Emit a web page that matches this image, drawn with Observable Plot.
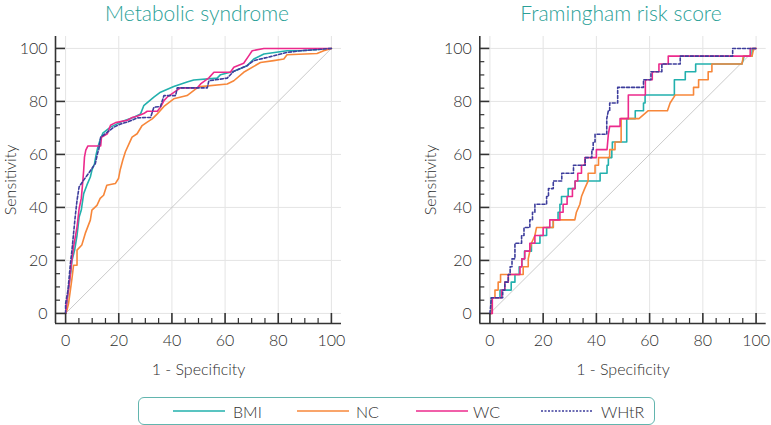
<!DOCTYPE html>
<html><head><meta charset="utf-8">
<script src="https://cdn.jsdelivr.net/npm/d3@7"></script>
<script src="https://cdn.jsdelivr.net/npm/@observablehq/plot@0.6"></script>
<style>
body{margin:0;background:#fff;}
#root{position:relative;width:771px;height:425px;overflow:hidden;font-family:Lato,"Open Sans",sans-serif;}
.title{position:absolute;top:2px;font-size:21px;font-weight:300;color:#2a9f97;transform:translateX(-50%);white-space:nowrap;line-height:22px;}
.panel{position:absolute;top:28px;}
#legend{position:absolute;left:138px;top:397px;width:517px;height:28px;box-sizing:border-box;border:1.3px solid #62b5ae;border-radius:6px;}
.item{position:absolute;top:0;height:26px;display:flex;align-items:center;font-size:16px;font-weight:300;color:#333;}
.item svg{position:absolute;left:0;top:10px;}
.item span{position:absolute;white-space:nowrap;}
</style>
</head><body>
<div id="root">
  <div class="title" id="t1" style="left:197px"></div>
  <div class="title" id="t2" style="left:621px"></div>
  <div class="panel" id="p1" style="left:0px"></div>
  <div class="panel" id="p2" style="left:385px"></div>
  <div id="legend"></div>
</div>
<script>
// ---- data ----
const panelTitles = ["Metabolic syndrome", "Framingham risk score"];
const seriesNames = ["BMI", "NC", "WC", "WHtR"];
const seriesColors = ["#22b0ad", "#f7873a", "#ec2a8c", "#3d3d9c"];
const xLabel = "1 - Specificity";
const yLabel = "Sensitivity";
const majorTicks = [0, 20, 40, 60, 80, 100];
const minorTicks = [5, 10, 15, 25, 30, 35, 45, 50, 55, 65, 70, 75, 85, 90, 95];
const diagonal = [[0, 0], [100, 100]];

// Metabolic syndrome ROC curves [1-specificity, sensitivity]
const msBMI = [[0,0],[0.5,4],[1.2,10],[2,16],[2.4,20],[3.4,23.9],[4.3,29.5],[5.1,36.4],[5.9,39],[6.8,45.2],[8,48.4],[9.3,51.5],[9.9,54],[10.9,56.6],[11.5,60],[12.2,63],[13,65.5],[14,68],[16.9,70.3],[20.7,72.2],[25.7,74],[28.2,75.3],[29.4,78.4],[33.2,81.6],[35.7,83.5],[40.7,85.6],[45.7,87.3],[48.2,88.1],[57,88.8],[58.3,90.1],[63.3,91.4],[68.3,93.5],[70.8,96],[74.6,97.9],[83.3,99.1],[88.3,99.1],[100,100]];
const msNC = [[0,0],[0.5,1.2],[1.1,3.7],[1.8,8.8],[2.4,13.2],[3,18.2],[4.3,18.2],[4.3,23.9],[6.1,25.8],[7.4,30.2],[9.3,35.2],[9.9,39],[11.8,40.8],[13,43.4],[14.3,44.6],[15.5,48.4],[18.7,49],[19.9,50.9],[20.5,54],[21.5,57.8],[22.5,61],[23.8,63.9],[25,66.5],[26.9,67.8],[28.8,70.9],[30.7,72.2],[32.6,73.4],[34.5,75.3],[37,78.1],[40.7,81],[45.7,82.2],[49.5,85.1],[50.8,85.6],[60.8,86.6],[63.3,87.8],[67,91],[73.3,94.7],[78.3,95.4],[82.1,96],[83.3,97.6],[94.6,98.1],[97.1,99.1],[100,100]];
const msWC = [[0,0],[0.5,5],[1.4,11.3],[2.1,18.2],[3,25.1],[4.3,32.7],[5.1,39.6],[5.9,43.4],[6.4,49],[6.8,54],[7.1,59],[7.6,61.6],[8.4,63.2],[13.2,63.2],[13.5,66.5],[15.7,67.8],[16.9,71],[18.8,72],[23.2,72.9],[25,73.9],[26.9,74.4],[29.4,75.4],[30.7,76.3],[34.5,76.3],[35.7,77.8],[37,80.3],[38.2,81.6],[43.2,85.1],[49.5,85.1],[50.8,86.6],[53.9,88.9],[55.8,91],[62,91],[63.3,92.9],[67,94.4],[68.9,97.2],[70.2,99.1],[74.6,100],[100,100]];
const msWHtR = [[0,0],[0,3.7],[0.9,8.8],[1.8,18.8],[2.4,23.9],[3,30.2],[3.6,36.4],[4.3,42.7],[5.1,47.8],[6.8,50.3],[8.6,52.8],[11.2,56.6],[12,60.3],[12.5,62],[13.2,66.5],[15.7,68.4],[18.2,70.3],[20.7,71.5],[23.2,72.2],[27,73.8],[32,74],[33.2,77.8],[35.7,78.1],[37,82.2],[41.4,82.2],[42,85.1],[53.3,85.1],[53.9,87.8],[60.8,88.8],[63.3,91.4],[68.3,93.5],[70.8,95.4],[77.1,96.9],[83.3,98.5],[88.3,99.1],[100,100]];

// Framingham risk score ROC curves [1-specificity, sensitivity]
const frBMI = [[0,0],[0.5,0],[0.5,5.9],[3.8,5.9],[3.8,8.8],[8,8.8],[8,11.8],[9.4,11.8],[9.4,14.7],[11,14.7],[11,17.6],[12,17.6],[12,20.6],[13,20.6],[13,23.5],[15.6,23.5],[15.6,26.5],[18.8,26.5],[18.8,29.4],[21.3,29.4],[21.3,32.4],[23.8,32.4],[23.8,35.3],[25.6,35.3],[25.6,38.2],[26.3,38.2],[26.3,41.2],[26.9,41.2],[26.9,44.1],[29.4,44.1],[29.4,47.1],[32,47.1],[32,50],[41.4,50],[41.4,52.9],[44,52.9],[44,55.9],[44.5,55.9],[44.5,58.8],[45.8,58.8],[45.8,61.8],[46,61.8],[46,64.7],[51.4,64.7],[51.4,73.5],[54.6,73.5],[54.6,76.5],[57.7,76.5],[57.7,79.4],[58.3,79.4],[58.3,82.4],[69.3,82.4],[69.3,88.2],[73.4,88.2],[73.4,91.2],[77.3,91.2],[77.3,94.1],[94.7,94.1],[95.5,97.1],[98.5,97.1],[98.5,100],[100,100]];
const frNC = [[0,0],[0.8,0],[0.8,5.9],[1.9,5.9],[1.9,8.8],[3.1,8.8],[3.1,11.8],[4,11.8],[4,14.7],[12.5,14.7],[12.5,17.6],[14.4,17.6],[14.4,20.6],[15,23.5],[15.6,26.5],[16.9,29.4],[17.5,32.4],[23.8,32.4],[23.8,35.3],[31.9,35.3],[32.5,38.2],[33.8,41.2],[34.4,44.1],[35.6,47.1],[36.9,50],[36.9,52.9],[39.5,52.9],[39.5,55.9],[40.8,55.9],[40.8,58.8],[45,58.8],[45,61.8],[47,61.8],[47,64.7],[49.3,64.7],[49.3,73.5],[56,73.5],[59.5,76.5],[66.7,76.5],[67.7,79.4],[69.6,82.4],[76.5,82.4],[76.5,85.3],[78.4,85.3],[78.4,88.2],[82,88.2],[82,91.2],[83.4,91.2],[83.4,94.1],[94.7,94.1],[95.2,97.1],[98.5,97.1],[99.1,100],[100,100]];
const frWC = [[0,0],[0.9,0],[0.9,5.9],[4.4,5.9],[4.4,8.8],[5.6,8.8],[5.6,11.8],[6.9,11.8],[6.9,14.7],[11.3,14.7],[11.3,17.6],[12,17.6],[12,20.6],[13.1,20.6],[13.1,23.5],[15,23.5],[15,26.5],[16.9,26.5],[16.9,29.4],[20,29.4],[20,32.4],[22.5,32.4],[22.5,35.3],[26.3,35.3],[26.3,38.2],[27.5,38.2],[27.5,41.2],[29,41.2],[29,44.1],[31,44.1],[31,47.1],[32,47.1],[32,50],[33,50],[33,52.9],[34.4,52.9],[34.4,55.9],[35.7,55.9],[35.7,58.8],[40,58.8],[40,61.8],[44,61.8],[44.5,67.6],[45,70.6],[48.9,70.6],[48.9,73.5],[52,73.5],[52,82.4],[58.4,82.4],[58.4,88.2],[61,88.2],[61,91.2],[63.5,91.2],[63.5,94.1],[67,94.1],[67,97.1],[97.8,97.1],[97.8,100],[100,100]];
const frWHtR = [[0,0],[0.3,2.9],[0.5,5.9],[4.8,5.9],[4.8,8.8],[5.6,8.8],[5.6,11.8],[6.9,11.8],[6.9,14.7],[7.6,14.7],[7.6,17.6],[8.3,17.6],[8.3,20.6],[9.4,20.6],[9.4,26.5],[11.9,26.5],[11.9,29.4],[12.8,29.4],[12.8,32.4],[15,32.4],[15,35.3],[16,35.3],[16,38.2],[16.9,38.2],[16.9,41.2],[21.3,41.2],[21.3,44.1],[22,44.1],[22,47.1],[23.8,47.1],[23.8,50],[27,50],[27,52.9],[31.4,52.9],[31.4,55.9],[35.8,55.9],[35.8,58.8],[38.3,58.8],[38.3,61.8],[38.8,61.8],[38.8,64.7],[39.5,64.7],[39.5,67.6],[43.9,67.6],[43.9,73.5],[44.5,76.5],[45,76.5],[45,79.4],[48,79.4],[48,85.3],[57.7,85.3],[57.7,88.2],[60.5,88.2],[60.5,91.2],[64.6,91.2],[64.6,94.1],[71.5,94.1],[71.5,97.1],[91.2,97.1],[91.2,100],[100,100]];

const msSeries = [msBMI, msNC, msWC, msWHtR];
const frSeries = [frBMI, frNC, frWC, frWHtR];

// ---- drawing ----
const xDom = [-3.8, 103.8];
const yDom = [-3.8, 104.5];
const H = 360, MT = 8, MB = 65;
const frameH = H - MT - MB;
const axisColor = "#333";

function panel(series, width, ml, mr, yLabelOffset) {
  const frameW = width - ml - mr;
  const lines = series.map((s, i) => Plot.line(s, {
    x: d => d[0], y: d => d[1],
    stroke: seriesColors[i], strokeWidth: 1.6,
    strokeDasharray: seriesNames[i] === "WHtR" ? "3,2" : null
  }));
  return Plot.plot({
    width, height: H, marginTop: MT, marginBottom: MB, marginLeft: ml, marginRight: mr,
    x: {domain: xDom}, y: {domain: yDom},
    style: {fontFamily: "Lato, 'Open Sans', sans-serif", fontSize: "16px", fontWeight: 300, color: "#2e2e2e", background: "transparent"},
    marks: [
      Plot.gridX(majorTicks, {stroke: "#e4e4e4", strokeOpacity: 1}),
      Plot.gridY(majorTicks, {stroke: "#e4e4e4", strokeOpacity: 1}),
      Plot.line(diagonal, {x: d => d[0], y: d => d[1], stroke: "#bdbdbd", strokeWidth: 0.8}),
      ...lines,
      Plot.ruleX([xDom[0]], {stroke: axisColor, strokeWidth: 1.6}),
      Plot.ruleY([yDom[0]], {stroke: axisColor, strokeWidth: 1.6}),
      Plot.tickX(majorTicks, {x: d => d, insetTop: frameH - 10, stroke: axisColor, strokeWidth: 1.6}),
      Plot.tickX(minorTicks, {x: d => d, insetTop: frameH - 5, stroke: axisColor, strokeWidth: 1.2}),
      Plot.tickY(majorTicks, {y: d => d, insetRight: frameW - 10, stroke: axisColor, strokeWidth: 1.6}),
      Plot.tickY(minorTicks, {y: d => d, insetRight: frameW - 5, stroke: axisColor, strokeWidth: 1.2}),
      Plot.axisX(majorTicks, {tickSize: 0, tickPadding: 11, label: xLabel, labelAnchor: "center", labelOffset: 51, labelArrow: "none"}),
      Plot.axisY(majorTicks, {tickSize: 0, tickPadding: 8, label: yLabel, labelAnchor: "center", labelOffset: yLabelOffset, labelArrow: "none"})
    ]
  });
}

document.getElementById("t1").textContent = panelTitles[0];
document.getElementById("t2").textContent = panelTitles[1];
document.getElementById("p1").appendChild(panel(msSeries, 385, 55, 44, 51));
document.getElementById("p2").appendChild(panel(frSeries, 386, 94.3, 5.3, 55));

// legend item positions (relative to the legend box)
const legendLineX = [34, 158, 277, 402];
const legendTextX = [94, 217, 334, 462];
const legend = document.getElementById("legend");
seriesNames.forEach((n, i) => {
  const it = document.createElement("div");
  it.className = "item";
  it.style.left = legendLineX[i] + "px";
  const dash = n === "WHtR" ? 'stroke-dasharray="2,1.5"' : "";
  it.innerHTML = `<svg width="52" height="6"><line x1="0" x2="52" y1="3" y2="3" stroke="${seriesColors[i]}" stroke-width="1.6" ${dash}/></svg><span style="left:${legendTextX[i] - legendLineX[i]}px">${n}</span>`;
  legend.appendChild(it);
});
</script>
</body></html>
